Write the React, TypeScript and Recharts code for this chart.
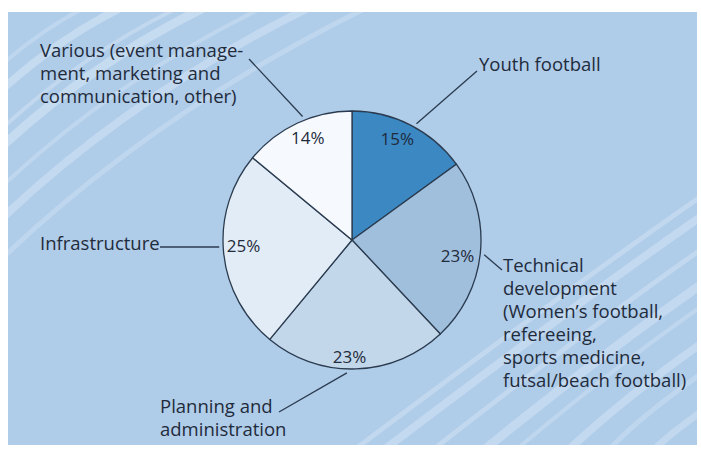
import React from "react";
import { PieChart, Pie, Cell } from "recharts";

// share of funds by area, in percent (read clockwise from the top)
const categories = [
  "Youth football",
  "Technical development",
  "Planning and administration",
  "Infrastructure",
  "Various",
];
const shares = [15, 23, 23, 25, 14];
const labelLines = [
  ["Youth football"],
  [
    "Technical",
    "development",
    "(Women\u2019s football,",
    "refereeing,",
    "sports medicine,",
    "futsal/beach football)",
  ],
  ["Planning and", "administration"],
  ["Infrastructure"],
  ["Various (event manage-", "ment, marketing and", "communication, other)"],
];

const sliceColors = ["#3b88c3", "#9fbfdd", "#c3d7ea", "#e1ecf6", "#f6faff"];
const outline = "#2b3b4f";
const textColor = "#1f2b3b";
const font = "'Open Sans', 'Noto Sans', sans-serif";
const pctFont = "'Liberation Sans Narrow', 'Open Sans', sans-serif";

// where each outside caption sits and how its leader runs (style only)
const captionLayout: Record<string, any> = {
  "Youth football": { shift: -2, lineEnd: [477, 71], x: 479, y: 71, pct: [-5, -3] },
  "Technical development": { shift: -1, lineEnd: [502, 270], x: 503, y: 272, pct: [-5, 5] },
  "Planning and administration": { shift: -4, lineEnd: [279, 412], x: 160, y: 413, pct: [-6, 6] },
  Infrastructure: { shift: -2.3, lineEnd: [160, 247], x: 40, y: 250, flat: true, pct: [2, -5] },
  Various: { shift: -3.4, lineEnd: [249, 59], x: 40, y: 57, pct: [3, -2] },
};

const data = categories.map((name, i) => ({ name, value: shares[i], lines: labelLines[i] }));

const RAD = Math.PI / 180;

const renderLabel = (props: any) => {
  const { cx, cy, midAngle, outerRadius, value, payload, index } = props;
  const name = payload?.name ?? categories[index];
  const lines: string[] = payload?.lines ?? labelLines[index];
  const lay = captionLayout[name];
  const ir = outerRadius * 0.86;
  const px = cx + ir * Math.cos(-midAngle * RAD) + lay.pct[0];
  const py = cy + ir * Math.sin(-midAngle * RAD) + lay.pct[1];
  const a = midAngle + lay.shift;
  const sr = outerRadius + 4;
  const sx = cx + sr * Math.cos(-a * RAD);
  let sy = cy + sr * Math.sin(-a * RAD);
  if (lay.flat) sy = lay.lineEnd[1];
  return (
    <g>
      <text
        x={px}
        y={py}
        textAnchor="middle"
        dominantBaseline="central"
        fontSize={17}
        fontFamily={pctFont}
        fill={textColor}
      >
        {`${value}%`}
      </text>
      <line x1={sx} y1={sy} x2={lay.lineEnd[0]} y2={lay.lineEnd[1]} stroke={outline} strokeWidth={1.3} />
      <text x={lay.x} y={lay.y} textAnchor="start" fontSize={18.5} fontFamily={font} fill={textColor}>
        {lines.map((l, i) => (
          <tspan key={i} x={lay.x} dy={i === 0 ? 0 : 23}>
            {l}
          </tspan>
        ))}
      </text>
    </g>
  );
};

// decorative light stripes of the backdrop
const topLeftStripes = [
  { y: 68, w: 4, o: 0.45 },
  { y: 93, w: 8, o: 0.6 },
  { y: 132, w: 4, o: 0.5 },
  { y: 150, w: 9, o: 0.6 },
  { y: 190, w: 4, o: 0.45 },
  { y: 222, w: 8, o: 0.55 },
  { y: 262, w: 5, o: 0.45 },
];
const bottomRightStripes = [
  { y: 195, w: 5, o: 0.5 },
  { y: 215, w: 8, o: 0.55 },
  { y: 248, w: 5, o: 0.5 },
  { y: 283, w: 9, o: 0.55 },
  { y: 305, w: 4, o: 0.45 },
  { y: 342, w: 8, o: 0.55 },
  { y: 372, w: 5, o: 0.45 },
  { y: 410, w: 7, o: 0.5 },
];

const Backdrop = () => (
  <svg width={701} height={454} style={{ position: "absolute", left: 0, top: 0 }}>
    <defs>
      <clipPath id="box">
        <rect x={8} y={12} width={689} height={433} />
      </clipPath>
    </defs>
    <rect x={8} y={12} width={689} height={433} fill="#afcce9" />
    <g clipPath="url(#box)" fill="none" stroke="#d3e4f5" strokeLinecap="round">
      {topLeftStripes.map((s, i) => (
        <path
          key={`tl${i}`}
          d={`M ${8 - 40} ${s.y + 30} Q ${(s.y - 12) * 0.55} ${s.y * 0.45} ${(s.y - 12) * 1.45 + 20} ${0}`}
          strokeWidth={s.w}
          strokeOpacity={s.o}
        />
      ))}
      {bottomRightStripes.map((s, i) => (
        <path
          key={`br${i}`}
          d={`M ${740} ${s.y - 25} Q ${620} ${s.y + 55} ${740 - (470 - s.y) * 1.5} ${470}`}
          strokeWidth={s.w}
          strokeOpacity={s.o}
        />
      ))}
    </g>
  </svg>
);

export default function App() {
  return (
    <div style={{ position: "absolute", left: 0, top: 0, width: 701, height: 454, background: "#ffffff" }}>
      <Backdrop />
      <div style={{ position: "absolute", left: 0, top: 0 }}>
        <PieChart width={701} height={454} margin={{ top: 0, right: 0, bottom: 0, left: 0 }}>
          <Pie
            data={data}
            dataKey="value"
            nameKey="name"
            cx={352}
            cy={240}
            outerRadius={129}
            startAngle={90}
            endAngle={-270}
            stroke={outline}
            strokeWidth={1.3}
            label={renderLabel}
            labelLine={false}
            isAnimationActive={false}
          >
            {data.map((d, i) => (
              <Cell key={d.name} fill={sliceColors[i]} />
            ))}
          </Pie>
        </PieChart>
      </div>
    </div>
  );
}
